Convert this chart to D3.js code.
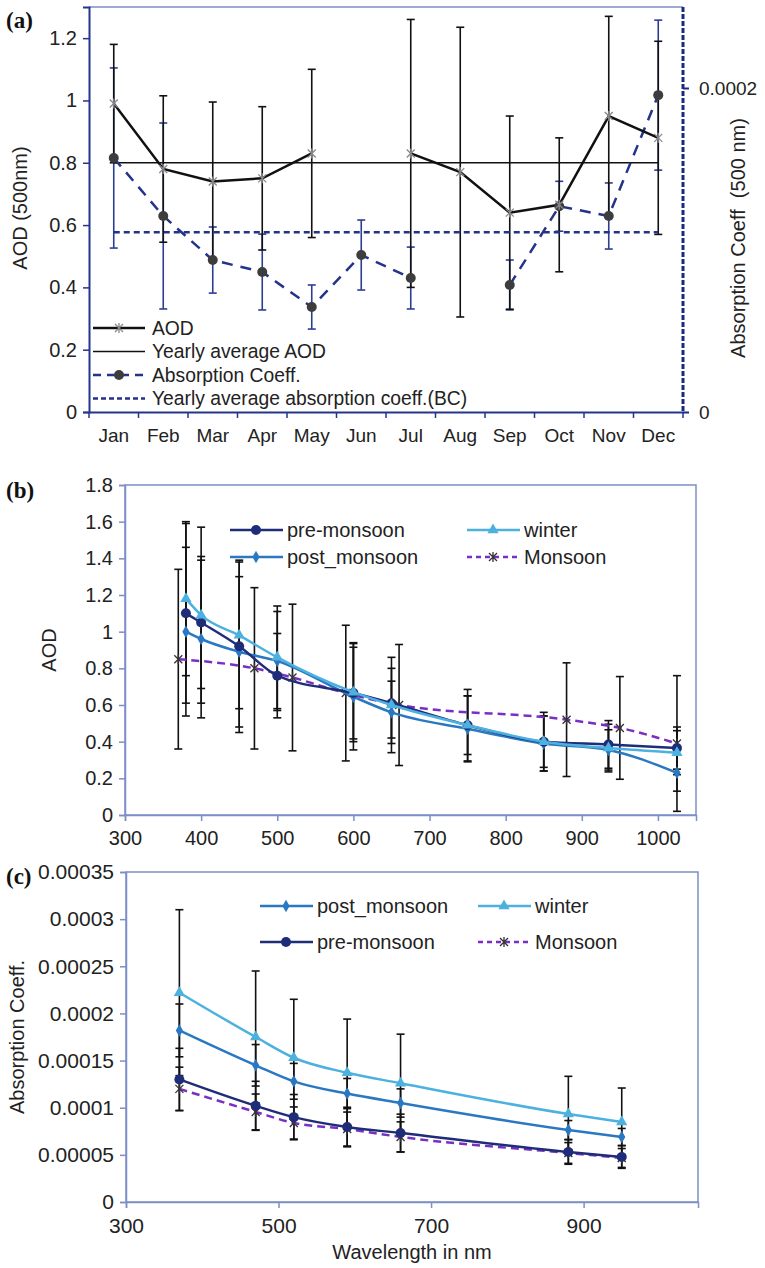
<!DOCTYPE html>
<html>
<head>
<meta charset="utf-8">
<script src="https://cdn.jsdelivr.net/npm/d3@7"></script>
<style>
  body { margin: 0; background: #fff; }
  svg text { font-family: "Liberation Sans", Arial, sans-serif; fill: #222; }
  svg text.tag { font-family: "Liberation Serif", "Times New Roman", serif; font-weight: bold; fill: #111; }
</style>
</head>
<body>
<div id="chart"></div>
<script>
// ---- panel (a): monthly AOD and absorption coefficient ----
const months = ["Jan", "Feb", "Mar", "Apr", "May", "Jun", "Jul", "Aug", "Sep", "Oct", "Nov", "Dec"];
const aod = [0.99, 0.78, 0.74, 0.75, 0.83, null, 0.83, 0.77, 0.64, 0.665, 0.95, 0.88];
const aodErr = [0.19, 0.235, 0.255, 0.23, 0.27, null, 0.43, 0.465, 0.31, 0.215, 0.32, 0.31];
const aodYearly = 0.80;
const absCoeff = [0.0001568, 0.000121, 0.0000938, 0.0000864, 0.0000648, 0.0000969, 0.0000827, null, 0.0000784, 0.000127, 0.000121, 0.0001956];
const absErr = [0.0000556, 0.0000574, 0.0000204, 0.0000234, 0.0000136, 0.0000216, 0.0000191, null, 0.0000154, 0.0000154, 0.0000204, 0.0000463];
const absYearly = 0.000111;

// ---- panel (b): spectral AOD by season ----
const wlSeason = [380, 400, 450, 500, 600, 650, 750, 850, 935, 1025];
const preAod = [1.10, 1.05, 0.92, 0.76, 0.665, 0.61, 0.49, 0.40, 0.385, 0.365];
const postAod = [1.00, 0.96, 0.89, 0.84, 0.645, 0.56, 0.47, 0.39, 0.355, 0.23];
const winterAod = [1.18, 1.09, 0.98, 0.86, 0.67, 0.60, 0.49, 0.40, 0.365, 0.34];
const preAodErr = [0.49, 0.36, 0.47, 0.23, 0.25, 0.19, 0.16, 0.14, 0.13, 0.115];
const postAodErr = [0.46, 0.43, 0.41, 0.27, 0.29, 0.17, 0.18, 0.15, 0.11, 0.10];
const winterAodErr = [0.42, 0.48, 0.40, 0.28, 0.27, 0.26, 0.195, 0.16, 0.13, 0.12];
const wlMonsoon = [370, 470, 520, 590, 660, 880, 950, 1025];
const monsoonAod = [0.85, 0.80, 0.75, 0.665, 0.60, 0.52, 0.475, 0.39];
const monsoonAodErr = [0.49, 0.44, 0.40, 0.37, 0.33, 0.31, 0.28, 0.37];

// ---- panel (c): spectral absorption coefficient by season ----
const wlAbs = [370, 470, 520, 590, 660, 880, 950];
const postAbs = [0.000182, 0.000145, 0.000128, 0.000115, 0.000105, 0.0000764, 0.000069];
const winterAbs = [0.000222, 0.000175, 0.000153, 0.000137, 0.000126, 0.0000933, 0.0000849];
const preAbs = [0.00013, 0.000102, 0.00009, 0.0000795, 0.0000732, 0.000053, 0.0000477];
const monsoonAbs = [0.00012, 0.0000955, 0.0000838, 0.0000774, 0.000069, 0.000052, 0.0000467];
const postAbsErr = [0.000028, 0.000022, 0.000019, 0.000016, 0.000015, 0.00001, 0.000009];
const winterAbsErr = [0.000088, 0.00007, 0.000062, 0.000057, 0.000052, 0.00004, 0.000036];
const preAbsErr = [0.000033, 0.000026, 0.000024, 0.000021, 0.00002, 0.000013, 0.000012];
const monsoonAbsErr = [0.000023, 0.000019, 0.000017, 0.000018, 0.000016, 0.000011, 0.00001];

const frameColor = "#7d8fc6";
const navy = "#25348c";
const colors = {pre: "#1f2d78", post: "#2a78c2", winter: "#4db1e0", monsoon: "#7a2fc4"};

const svg = d3.select("#chart").append("svg")
    .attr("width", 765)
    .attr("height", 1268);

const asterisk = "M-4,-4L4,4M-4,4L4,-4M0,-5L0,5";

function errorBars(g, xs, ys, errs, x, y, color) {
    const pts = xs.map((d, i) => ({x: d, v: ys[i], e: errs[i]})).filter(d => d.v != null);
    const eg = g.append("g").attr("stroke", color).attr("stroke-width", 1.6);
    pts.forEach(d => {
        const px = x(d.x), top = y(d.v + d.e), bot = y(d.v - d.e);
        eg.append("line").attr("x1", px).attr("x2", px).attr("y1", top).attr("y2", bot);
        eg.append("line").attr("x1", px - 4).attr("x2", px + 4).attr("y1", top).attr("y2", top);
        eg.append("line").attr("x1", px - 4).attr("x2", px + 4).attr("y1", bot).attr("y2", bot);
    });
}

function marker(g, kind, px, py, color) {
    if (kind === "circle") {
        g.append("circle").attr("cx", px).attr("cy", py).attr("r", 5).attr("fill", color);
    } else if (kind === "asterisk") {
        g.append("path").attr("d", asterisk).attr("transform", `translate(${px},${py})`)
            .attr("stroke", color).attr("stroke-width", 1.3).attr("fill", "none");
    } else {
        const sym = kind === "triangle" ? d3.symbolTriangle : d3.symbolDiamond;
        g.append("path").attr("d", d3.symbol(sym, kind === "triangle" ? 55 : 45)())
            .attr("transform", `translate(${px},${py})`).attr("fill", color);
    }
}

// ================= panel (a) =================
const a = svg.append("g");
const ax = d3.scaleBand().domain(months).range([89, 683]);
const ayL = d3.scaleLinear().domain([0, 1.3]).range([412, 7]);
const ayR = d3.scaleLinear().domain([0, 0.00025]).range([412, 7]);
const cx = m => ax(m) + ax.bandwidth() / 2;

a.append("line").attr("x1", 89).attr("x2", 683).attr("y1", 7).attr("y2", 7)
    .attr("stroke", frameColor).attr("stroke-width", 1.5);

a.append("g")
    .attr("transform", "translate(89,0)")
    .call(d3.axisLeft(ayL).tickValues(d3.range(0, 1.21, 0.2)).tickSize(6).tickPadding(6)
        .tickFormat(d => String(+d.toFixed(1))))
    .call(g => g.select(".domain").attr("stroke", navy).attr("stroke-width", 2))
    .call(g => g.selectAll(".tick line").attr("stroke", navy).attr("stroke-width", 1.5))
    .call(g => g.selectAll("text").attr("font-size", 20).attr("fill", "#222"));

a.append("g")
    .attr("transform", "translate(0,412)")
    .call(d3.axisBottom(ax).tickSize(0).tickPadding(17))
    .call(g => g.select(".domain").attr("stroke", navy).attr("stroke-width", 2))
    .call(g => g.selectAll("text").attr("font-size", 19).attr("fill", "#222"));

a.append("g").selectAll("line")
    .data(months.concat(["end"]))
    .join("line")
    .attr("x1", d => d === "end" ? 683 : ax(d))
    .attr("x2", d => d === "end" ? 683 : ax(d))
    .attr("y1", 412).attr("y2", 418)
    .attr("stroke", navy).attr("stroke-width", 1.5);

a.append("line").attr("x1", 683).attr("x2", 683).attr("y1", 7).attr("y2", 412)
    .attr("stroke", "#1b2a80").attr("stroke-width", 3).attr("stroke-dasharray", "5,2");
a.append("g")
    .attr("transform", "translate(683,0)")
    .call(d3.axisRight(ayR).tickValues([0, 0.0002]).tickSize(6).tickPadding(10)
        .tickFormat(d => d === 0 ? "0" : "0.0002"))
    .call(g => g.select(".domain").remove())
    .call(g => g.selectAll(".tick line").attr("stroke", "#1b2a80").attr("stroke-width", 2))
    .call(g => g.selectAll("text").attr("font-size", 19).attr("fill", "#222"));

a.append("text").attr("transform", "translate(27,208) rotate(-90)")
    .attr("text-anchor", "middle").attr("font-size", 20).text("AOD (500nm)");
a.append("text").attr("transform", "translate(745,238) rotate(-90)")
    .attr("text-anchor", "middle").attr("font-size", 20).attr("xml:space", "preserve")
    .text("Absorption Coeff  (500 nm)");

// error bars
errorBars(a, months, absCoeff, absErr, cx, ayR, "#2c3e94");
errorBars(a, months, aod, aodErr, cx, ayL, "#111");

// yearly averages
a.append("line").attr("x1", cx("Jan")).attr("x2", cx("Dec"))
    .attr("y1", ayL(aodYearly)).attr("y2", ayL(aodYearly))
    .attr("stroke", "#111").attr("stroke-width", 1.5);
a.append("line").attr("x1", cx("Jan")).attr("x2", cx("Dec"))
    .attr("y1", ayR(absYearly)).attr("y2", ayR(absYearly))
    .attr("stroke", "#23338a").attr("stroke-width", 2.5).attr("stroke-dasharray", "6,4");

// series lines
a.append("path")
    .datum(months.map((m, i) => ({m, v: absCoeff[i]})))
    .attr("d", d3.line().defined(d => d.v != null).x(d => cx(d.m)).y(d => ayR(d.v)))
    .attr("fill", "none").attr("stroke", "#23338a").attr("stroke-width", 2.5)
    .attr("stroke-dasharray", "11,8");
a.append("path")
    .datum(months.map((m, i) => ({m, v: aod[i]})))
    .attr("d", d3.line().defined(d => d.v != null).x(d => cx(d.m)).y(d => ayL(d.v)))
    .attr("fill", "none").attr("stroke", "#111").attr("stroke-width", 2.5);

months.forEach((m, i) => {
    if (absCoeff[i] != null) marker(a, "circle", cx(m), ayR(absCoeff[i]), "#3d3d3d");
    if (aod[i] != null) marker(a, "asterisk", cx(m), ayL(aod[i]), "#888");
});

// legend (a)
const legA = [
    {label: "AOD", stroke: "#111", w: 2.5, dash: null, mark: "asterisk"},
    {label: "Yearly average AOD", stroke: "#111", w: 1.5, dash: null, mark: null},
    {label: "Absorption Coeff.", stroke: "#23338a", w: 2.5, dash: "8,6", mark: "circle"},
    {label: "Yearly average absorption coeff.(BC)", stroke: "#23338a", w: 2.5, dash: "5,3", mark: null}
];
legA.forEach((d, i) => {
    const y = 328 + i * 23.5;
    a.append("line").attr("x1", 93).attr("x2", 145).attr("y1", y).attr("y2", y)
        .attr("stroke", d.stroke).attr("stroke-width", d.w).attr("stroke-dasharray", d.dash);
    if (d.mark) marker(a, d.mark, 119, y, d.mark === "circle" ? "#3d3d3d" : "#888");
    a.append("text").attr("x", 152).attr("y", y).attr("dy", "0.35em")
        .attr("font-size", 19.3).text(d.label);
});

a.append("text").attr("class", "tag").attr("x", 6).attr("y", 28)
    .attr("font-size", 23).text("(a)");

// ================= panels (b) and (c) =================
function spectralPanel(opt) {
    const g = svg.append("g");
    const x = d3.scaleLinear().domain([300, 1050]).range([opt.left, opt.right]);
    const y = d3.scaleLinear().domain(opt.yDomain).range([opt.bottom, opt.top]);

    g.append("rect").attr("x", opt.left).attr("y", opt.top)
        .attr("width", opt.right - opt.left).attr("height", opt.bottom - opt.top)
        .attr("fill", "none").attr("stroke", frameColor).attr("stroke-width", 1.5);

    g.append("g")
        .attr("transform", `translate(${opt.left},0)`)
        .call(d3.axisLeft(y).tickValues(opt.yTicks).tickSize(6).tickPadding(6).tickFormat(opt.yFormat))
        .call(s => s.select(".domain").attr("stroke", frameColor).attr("stroke-width", 1.5))
        .call(s => s.selectAll(".tick line").attr("stroke", frameColor).attr("stroke-width", 1.5))
        .call(s => s.selectAll("text").attr("font-size", opt.fs).attr("fill", "#222"));

    g.append("g")
        .attr("transform", `translate(0,${opt.bottom})`)
        .call(d3.axisBottom(x).tickValues(opt.xTicks).tickSize(6).tickPadding(10).tickFormat(d3.format("d")))
        .call(s => s.select(".domain").attr("stroke", frameColor).attr("stroke-width", 1.5))
        .call(s => s.selectAll(".tick line").attr("stroke", frameColor).attr("stroke-width", 1.5))
        .call(s => s.selectAll("text").attr("font-size", opt.fs).attr("fill", "#222"));

    opt.series.forEach(s => errorBars(g, s.x, s.v, s.e, x, y, "#111"));

    const curve = d3.line().curve(d3.curveMonotoneX).x(d => x(d[0])).y(d => y(d[1]));
    opt.series.forEach(s => {
        g.append("path").datum(s.x.map((w, i) => [w, s.v[i]]))
            .attr("d", curve).attr("fill", "none")
            .attr("stroke", s.color).attr("stroke-width", 2.5)
            .attr("stroke-dasharray", s.dash);
        s.x.forEach((w, i) => marker(g, s.mark, x(w), y(s.v[i]), s.mark === "asterisk" ? "#333" : s.color));
    });

    opt.legend.forEach(l => {
        const s = opt.series.find(d => d.name === l.name);
        g.append("line").attr("x1", l.x).attr("x2", l.x + 53).attr("y1", l.y).attr("y2", l.y)
            .attr("stroke", s.color).attr("stroke-width", 2.5).attr("stroke-dasharray", s.dash ? "5,4" : null);
        marker(g, s.mark, l.x + 26, l.y, s.mark === "asterisk" ? "#333" : s.color);
        g.append("text").attr("x", l.x + 57).attr("y", l.y).attr("dy", "0.35em")
            .attr("font-size", 20).text(s.name);
    });

    g.append("text").attr("class", "tag").attr("x", 6).attr("y", opt.tagY)
        .attr("font-size", 23).text(opt.tag);
    g.append("text").attr("transform", `translate(${opt.yLabelX},${(opt.top + opt.bottom) / 2}) rotate(-90)`)
        .attr("text-anchor", "middle").attr("font-size", 20).text(opt.yLabel);
    if (opt.xLabel) {
        g.append("text").attr("x", (opt.left + opt.right) / 2).attr("y", opt.bottom + 57)
            .attr("text-anchor", "middle").attr("font-size", 20).text(opt.xLabel);
    }
}

spectralPanel({
    left: 125, right: 696, top: 485, bottom: 815,
    yDomain: [0, 1.8], yTicks: d3.range(0, 1.81, 0.2), yFormat: d => String(+d.toFixed(1)),
    xTicks: d3.range(300, 1001, 100), fs: 20,
    tag: "(b)", tagY: 498, yLabel: "AOD", yLabelX: 56,
    series: [
        {name: "Monsoon", x: wlMonsoon, v: monsoonAod, e: monsoonAodErr, color: colors.monsoon, mark: "asterisk", dash: "8,5"},
        {name: "post_monsoon", x: wlSeason, v: postAod, e: postAodErr, color: colors.post, mark: "diamond"},
        {name: "pre-monsoon", x: wlSeason, v: preAod, e: preAodErr, color: colors.pre, mark: "circle"},
        {name: "winter", x: wlSeason, v: winterAod, e: winterAodErr, color: colors.winter, mark: "triangle"}
    ],
    legend: [
        {name: "pre-monsoon", x: 230, y: 530},
        {name: "post_monsoon", x: 230, y: 557},
        {name: "winter", x: 467, y: 530},
        {name: "Monsoon", x: 467, y: 557}
    ]
});

spectralPanel({
    left: 126, right: 698, top: 872, bottom: 1202,
    yDomain: [0, 0.00035], yTicks: d3.range(0, 0.000351, 0.00005),
    yFormat: d => d < 1e-9 ? "0" : d.toFixed(5).replace(/0+$/, ""),
    xTicks: [300, 500, 700, 900], fs: 21,
    tag: "(c)", tagY: 884, yLabel: "Absorption Coeff.", yLabelX: 24,
    xLabel: "Wavelength in nm",
    series: [
        {name: "Monsoon", x: wlAbs, v: monsoonAbs, e: monsoonAbsErr, color: colors.monsoon, mark: "asterisk", dash: "8,5"},
        {name: "pre-monsoon", x: wlAbs, v: preAbs, e: preAbsErr, color: colors.pre, mark: "circle"},
        {name: "post_monsoon", x: wlAbs, v: postAbs, e: postAbsErr, color: colors.post, mark: "diamond"},
        {name: "winter", x: wlAbs, v: winterAbs, e: winterAbsErr, color: colors.winter, mark: "triangle"}
    ],
    legend: [
        {name: "post_monsoon", x: 260, y: 906},
        {name: "pre-monsoon", x: 260, y: 942},
        {name: "winter", x: 478, y: 906},
        {name: "Monsoon", x: 478, y: 942}
    ]
});
</script>
</body>
</html>
